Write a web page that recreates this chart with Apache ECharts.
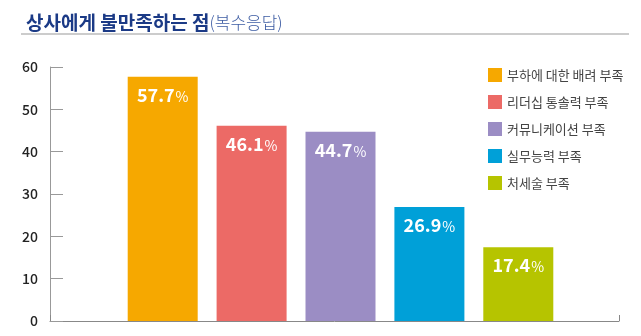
<!DOCTYPE html>
<html><head><meta charset="utf-8">
<script src="https://cdn.jsdelivr.net/npm/echarts@6/dist/echarts.min.js"></script>
<style>html,body{margin:0;padding:0;background:#fff}#c{width:641px;height:336px}</style>
</head><body><div id="c"></div>
<script>
const titleMain = '상사에게 불만족하는 점';
const titleSub = '(복수응답)';
const categories = ['부하에 대한 배려 부족', '리더십 통솔력 부족', '커뮤니케이션 부족', '실무능력 부족', '처세술 부족'];
const values = [57.7, 46.1, 44.7, 26.9, 17.4];
const colors = ['#F6A800', '#EC6A66', '#9B8DC4', '#00A0D8', '#B6C400'];
const yTicks = [0, 10, 20, 30, 40, 50, 60];

const FONT = '"Noto Sans CJK KR", "Noto Sans", sans-serif';
const chart = echarts.init(document.getElementById('c'), null, {renderer: 'canvas'});

const series = categories.map((name, i) => ({
  name: name,
  type: 'bar',
  xAxisIndex: 1,
  yAxisIndex: 1,
  barWidth: 70,
  barGap: '27%',
  itemStyle: {color: colors[i]},
  data: [values[i]],
  label: {
    show: true,
    position: 'insideTop',
    distance: 9,
    formatter: p => '{v|' + p.value.toFixed(1) + '}{p|%}',
    rich: {
      v: {color: '#fff', fontSize: 18, fontWeight: 'bold', fontFamily: FONT},
      p: {color: '#fff', fontSize: 14, fontFamily: FONT, padding: [3, 0, 0, 1]}
    }
  }
}));

chart.setOption({
  animation: false,
  textStyle: {fontFamily: FONT},
  title: {
    left: 21, top: 8,
    text: '{a|' + titleMain + '}{b|' + titleSub + '}',
    textStyle: {
      rich: {
        a: {fontSize: 19, fontWeight: 'bold', color: '#1B3A86', fontFamily: FONT},
        b: {fontSize: 17, fontWeight: 300, color: '#3D5CA3', fontFamily: FONT}
      }
    }
  },
  graphic: [{
    type: 'rect', left: 21, top: 33, shape: {width: 608, height: 2},
    style: {fill: '#CCCCCC'}, silent: true
  }],
  legend: {
    orient: 'vertical',
    left: 483, top: 63,
    itemWidth: 14, itemHeight: 14, itemGap: 13,
    icon: 'rect',
    textStyle: {fontSize: 13, color: '#444', fontFamily: FONT, padding: [0, 0, 0, 0]},
    data: categories
  },
  grid: [
    {left: 50, right: 22, top: 67, bottom: 15},
    {left: 127, right: 87, top: 67, bottom: 15}
  ],
  xAxis: [
    {
      type: 'category', gridIndex: 0, data: [''],
      axisLine: {show: true, lineStyle: {color: '#888', width: 1}},
      axisTick: {show: true, inside: true, length: 6, lineStyle: {color: '#888'}},
      axisLabel: {show: false}
    },
    {
      type: 'category', gridIndex: 1, data: [''],
      axisLine: {show: false}, axisTick: {show: false}, axisLabel: {show: false}
    }
  ],
  yAxis: [
    {
      type: 'value', gridIndex: 0, min: yTicks[0], max: yTicks[yTicks.length - 1], interval: 10,
      axisLine: {show: true, lineStyle: {color: '#999', width: 1}},
      axisTick: {show: true, inside: true, length: 13, lineStyle: {color: '#999'}},
      splitLine: {show: false},
      axisLabel: {fontSize: 14, color: '#222', fontWeight: 500, margin: 12, fontFamily: FONT}
    },
    {
      type: 'value', gridIndex: 1, min: yTicks[0], max: yTicks[yTicks.length - 1], interval: 10,
      show: false, splitLine: {show: false}
    }
  ],
  series: series
});
</script></body></html>
